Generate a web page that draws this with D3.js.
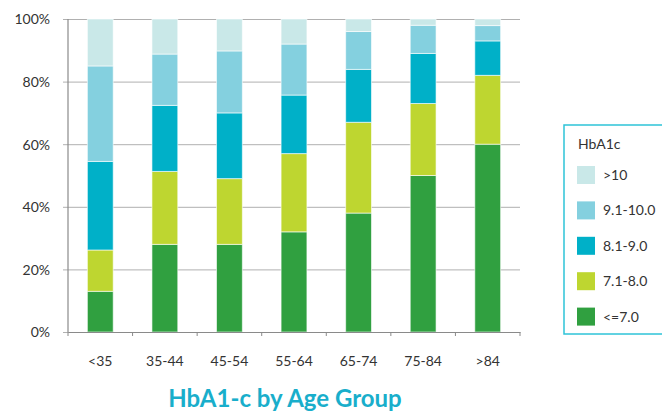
<!DOCTYPE html>
<html>
<head>
<meta charset="utf-8">
<script src="https://cdn.jsdelivr.net/npm/d3@7"></script>
<style>
  html, body { margin: 0; padding: 0; background: #fff; overflow: hidden; }
  svg { display: block; }
  text { font-family: Lato, "Open Sans", sans-serif; }
</style>
</head>
<body>
<div id="chart"></div>
<script>
// data (percent of each age group)
const ageGroups = ["<35", "35-44", "45-54", "55-64", "65-74", "75-84", ">84"];
const seriesNames = ["<=7.0", "7.1-8.0", "8.1-9.0", "9.1-10.0", ">10"];
const le70 = [13, 28, 28, 32, 38, 50, 60];
const r71to80 = [13.2, 23.3, 21, 25, 29, 23, 22];
const r81to90 = [28.3, 21.1, 21, 18.7, 16.9, 16, 11];
const r91to100 = [30.5, 16.4, 19.8, 16.3, 12.1, 9, 4.9];
const gt10 = [15, 11.2, 10.2, 8, 4, 2, 2.1];
const yTicks = [0, 20, 40, 60, 80, 100];
const colors = ["#30a040", "#bed630", "#00b0c8", "#84d0df", "#c9e8e8"];

const w = 662, h = 414;
const margin = { top: 19, right: 142, bottom: 82, left: 68 };
const innerWidth = w - margin.left - margin.right;
const innerHeight = h - margin.top - margin.bottom;

const rows = ageGroups.map((g, i) => ({
  group: g,
  "<=7.0": le70[i], "7.1-8.0": r71to80[i], "8.1-9.0": r81to90[i],
  "9.1-10.0": r91to100[i], ">10": gt10[i]
}));
const stacked = d3.stack().keys(seriesNames)(rows);

const xScale = d3.scaleBand().domain(ageGroups).range([0, innerWidth]).paddingInner(0.6).paddingOuter(0.3);
const yScale = d3.scaleLinear().domain([0, 100]).range([innerHeight, 0]);
const color = d3.scaleOrdinal().domain(seriesNames).range(colors);

const svg = d3.select("#chart").append("svg").attr("width", w).attr("height", h);
const g = svg.append("g").attr("transform", `translate(${margin.left},${margin.top})`);

// gridlines + y labels
const yAxis = d3.axisLeft(yScale).tickValues(yTicks).tickSize(-innerWidth).tickPadding(18)
  .tickFormat(d => d + "%");
g.append("g").call(yAxis).call(a => {
  a.select(".domain").remove();
  a.selectAll("line").attr("stroke", "#b0b0b0").attr("x1", -5);
  a.selectAll("text").attr("font-size", 14).attr("fill", "#333").attr("dy", "0.35em");
});

// bars
g.selectAll(".layer").data(stacked).enter().append("g")
  .attr("fill", d => color(d.key))
  .selectAll("rect").data(d => d).enter().append("rect")
  .attr("x", d => xScale(d.data.group))
  .attr("y", d => yScale(d[1]))
  .attr("width", xScale.bandwidth())
  .attr("height", d => yScale(d[0]) - yScale(d[1]))
  .attr("stroke", "rgba(255,255,255,0.6)")
  .attr("stroke-width", 1);

// y axis line
g.append("line").attr("x1", 0).attr("x2", 0).attr("y1", 0).attr("y2", innerHeight)
  .attr("stroke", "#8a8a8a").attr("stroke-width", 1.2);

// x axis with ticks at band edges
const xAxis = d3.axisBottom(xScale).tickSize(0).tickPadding(24);
const xg = g.append("g").attr("transform", `translate(0,${innerHeight})`).call(xAxis);
xg.select(".domain").attr("stroke", "#8a8a8a");
xg.selectAll("text").attr("font-size", 14).attr("fill", "#333");
const edges = d3.range(ageGroups.length + 1).map(i => i * innerWidth / ageGroups.length);
xg.selectAll(".edge").data(edges).enter().append("line")
  .attr("x1", d => d).attr("x2", d => d).attr("y1", 0).attr("y2", 4)
  .attr("stroke", "#8a8a8a");

// title
svg.append("text").attr("x", 285).attr("y", 407).attr("text-anchor", "middle")
  .attr("font-size", 24).attr("font-weight", "bold").attr("fill", "#19aecb")
  .text("HbA1-c by Age Group");

// legend
const lg = svg.append("g").attr("transform", "translate(564,125)");
lg.append("rect").attr("x", 0).attr("y", 0).attr("width", 110).attr("height", 209)
  .attr("fill", "none").attr("stroke", "#2ec3d8").attr("stroke-width", 1.5);
lg.append("text").attr("x", 14).attr("y", 24).attr("font-size", 14).attr("fill", "#333").text("HbA1c");
const legendOrder = seriesNames.slice().reverse();
const item = lg.selectAll(".item").data(legendOrder).enter().append("g")
  .attr("transform", (d, i) => `translate(13,${41 + i * 35.4})`);
item.append("rect").attr("width", 18).attr("height", 18).attr("fill", d => color(d));
item.append("text").attr("x", 26).attr("y", 9).attr("dy", "0.35em")
  .attr("font-size", 14).attr("fill", "#333").text(d => d);
</script>
</body>
</html>
